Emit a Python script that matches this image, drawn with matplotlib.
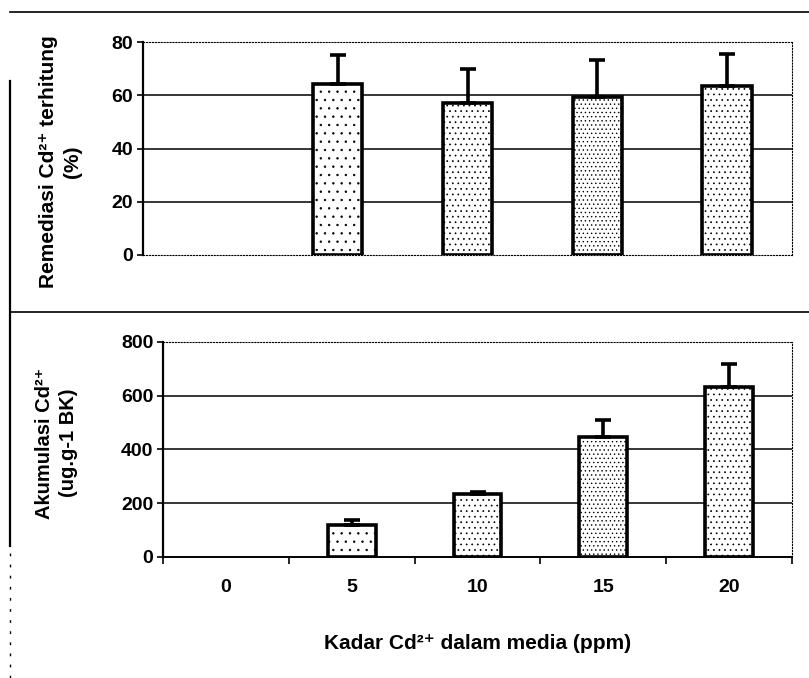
import numpy as np
import matplotlib.pyplot as plt
from matplotlib.lines import Line2D

plt.rcParams['font.family'] = ['Liberation Sans', 'DejaVu Sans']
plt.rcParams['font.weight'] = 'bold'
plt.rcParams['hatch.linewidth'] = 0.5
plt.rcParams['hatch.color'] = '#777777'

# data
kadar = ['0', '5', '10', '15', '20']
remediasi = [0, 64.2, 57.2, 59.3, 63.5]
remediasi_err = [0, 11.0, 12.8, 13.9, 12.0]
akumulasi = [0, 119, 234, 447, 633]
akumulasi_err = [0, 19, 8, 63, 85]
hatches = ['', '..', '...', '....', '...']

fig = plt.figure(figsize=(8.09, 6.78), dpi=100)
ax1 = fig.add_axes([0.1768, 0.6239, 0.8022, 0.3141])
ax2 = fig.add_axes([0.2015, 0.1785, 0.7775, 0.3171])

x = np.arange(len(kadar))


def draw(ax, vals, errs, ymax, step):
    for i in x:
        if vals[i] > 0:
            ax.bar(i, vals[i], width=0.38, color='white', edgecolor='black',
                   linewidth=2.6, hatch=hatches[i], zorder=3)
    ax.errorbar(x[1:], vals[1:], yerr=[np.zeros(4), errs[1:]], fmt='none',
                ecolor='black', elinewidth=2.6, capsize=6, capthick=2.6, zorder=4)
    ax.set_xlim(-0.5, len(kadar) - 0.5)
    ax.set_ylim(0, ymax)
    ax.set_yticks(np.arange(0, ymax + 1, step))
    for g in np.arange(step, ymax, step):
        ax.axhline(g, color='black', lw=1.1, zorder=1)
    ax.spines['top'].set_linestyle(':')
    ax.spines['right'].set_linestyle(':')
    ax.spines['left'].set_linewidth(1.6)
    ax.tick_params(axis='y', labelsize=14, length=4, width=1.2, pad=3)
    for s in ax.spines.values():
        s.set_zorder(5)


draw(ax1, remediasi, remediasi_err, 80, 20)
ax1.spines['bottom'].set_linestyle(':')
ax1.set_xticks([])
ax1.set_ylabel('Remediasi Cd²⁺ terhitung\n(%)', fontsize=15,
               fontweight='bold', linespacing=1.35)
ax1.yaxis.set_label_coords(-0.094, 0.44)

draw(ax2, akumulasi, akumulasi_err, 800, 200)
ax2.spines['bottom'].set_linewidth(1.4)
ax2.set_xticks(x)
ax2.set_xticklabels(kadar)
ax2.set_xticks(np.arange(-0.5, len(kadar)), minor=True)
ax2.tick_params(axis='x', which='major', length=0, labelsize=14, pad=16)
ax2.tick_params(axis='x', which='minor', length=5, width=1.2)
ax2.set_ylabel('Akumulasi Cd²⁺\n(ug.g-1 BK)', fontsize=14.5,
               fontweight='bold', linespacing=1.35)
ax2.yaxis.set_label_coords(-0.135, 0.53)
ax2.set_xlabel('Kadar Cd²⁺ dalam media (ppm)', fontsize=15,
               fontweight='bold', labelpad=27)

# frame lines of the scanned page
fig.add_artist(Line2D([0.012, 1.0], [0.982, 0.982], color='black', lw=1.2))
fig.add_artist(Line2D([0.012, 1.0], [0.540, 0.540], color='black', lw=1.2))
fig.add_artist(Line2D([0.012, 0.012], [0.195, 0.88], color='black', lw=1.6))
fig.add_artist(Line2D([0.012, 0.012], [0.0, 0.195], color='black', lw=1.0, ls=(0, (2, 6))))

fig.savefig('out.png', dpi=100)
